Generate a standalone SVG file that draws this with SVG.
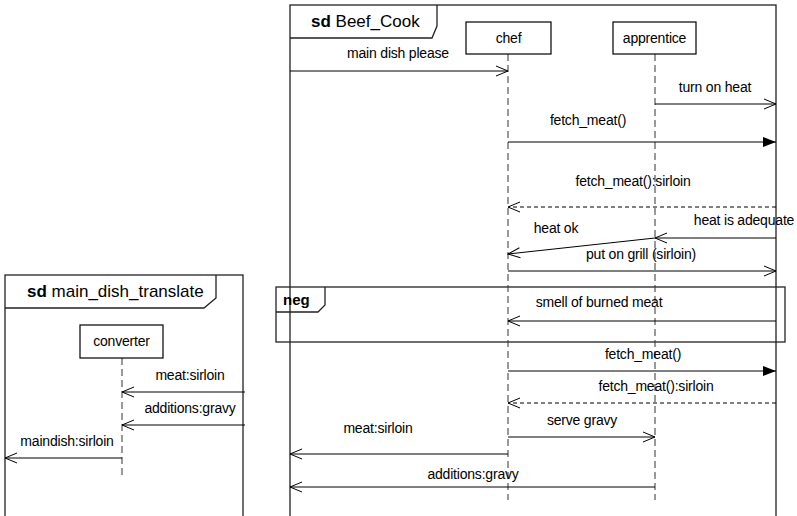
<svg xmlns="http://www.w3.org/2000/svg" width="797" height="516" viewBox="0 0 797 516">
  <defs>
    <style>
      text { font-family: "Liberation Sans", Arial, sans-serif; font-size: 14px; fill: #000; letter-spacing: -0.2px; }
      .title { font-size: 17px; letter-spacing: 0; }
      .kw { font-weight: bold; }
      .frame { fill: none; stroke: #222; stroke-width: 1.3; }
      .box { fill: #fff; stroke: #000; stroke-width: 1.2; }
      .life { stroke: #333; stroke-width: 1; stroke-dasharray: 7 4; fill: none; }
      .msg { stroke: #000; stroke-width: 1; fill: none; }
      .sync { marker-end: url(#filled); }
      .open { marker-end: url(#open); }
      .reply { stroke-dasharray: 4 3; }
    </style>
    <marker id="open" viewBox="0 0 14 12" refX="13" refY="6" markerWidth="14" markerHeight="12" markerUnits="userSpaceOnUse" orient="auto">
      <path d="M1,1 L13,6 L1,11" fill="none" stroke="#000" stroke-width="1"/>
    </marker>
    <marker id="filled" viewBox="0 0 14 12" refX="13" refY="6" markerWidth="14" markerHeight="12" markerUnits="userSpaceOnUse" orient="auto">
      <path d="M0,1 L13,6 L0,11 Z" fill="#000"/>
    </marker>
  </defs>

  <!-- sd main_dish_translate frame -->
  <g id="frame-main-dish-translate">
    <rect class="frame" x="5" y="275" width="238" height="260"/>
    <path class="frame" d="M5,308 L204,308 L216,298 L216,275"/>
    <text class="title" x="27" y="297"><tspan class="kw">sd</tspan> main_dish_translate</text>
  </g>

  <!-- sd Beef_Cook frame -->
  <g id="frame-beef-cook">
    <rect class="frame" x="290" y="5" width="486" height="530"/>
    <path class="frame" d="M290,38 L432,38 L437,26 L437,5"/>
    <text class="title" x="311" y="27"><tspan class="kw">sd</tspan> Beef_Cook</text>
  </g>

  <!-- neg combined fragment -->
  <g id="fragment-neg">
    <rect class="frame" x="276" y="287" width="509" height="55"/>
    <path class="frame" d="M276,312 L318,312 L325,305 L325,287"/>
    <text class="kw" x="283" y="305" style="font-size:15px;letter-spacing:0">neg</text>
  </g>

  <!-- lifelines -->
  <g id="chef">
    <line class="life" x1="508" y1="54" x2="508" y2="500"/>
    <rect class="box" x="466" y="22" width="85" height="32"/>
    <text x="508.5" y="43" text-anchor="middle">chef</text>
  </g>
  <g id="apprentice">
    <line class="life" x1="655" y1="54" x2="655" y2="500"/>
    <rect class="box" x="613" y="22" width="83" height="32"/>
    <text x="654.5" y="43" text-anchor="middle">apprentice</text>
  </g>
  <g id="converter">
    <line class="life" x1="122" y1="358" x2="122" y2="477"/>
    <rect class="box" x="80" y="325" width="83" height="33"/>
    <text x="121.5" y="346" text-anchor="middle">converter</text>
  </g>

  <!-- messages -->
  <g id="connectors">
    <line class="msg open" x1="290" y1="71" x2="508" y2="71"/>
    <line class="msg open" x1="655" y1="104" x2="776" y2="104"/>
    <line class="msg sync" x1="508" y1="142" x2="776" y2="142"/>
    <line class="msg reply open" x1="776" y1="207" x2="508" y2="207"/>
    <line class="msg open" x1="776" y1="238" x2="655" y2="238"/>
    <line class="msg open" x1="655" y1="238" x2="508" y2="254"/>
    <line class="msg open" x1="508" y1="271" x2="776" y2="271"/>
    <line class="msg open" x1="776" y1="321" x2="508" y2="321"/>
    <line class="msg sync" x1="508" y1="371" x2="776" y2="371"/>
    <line class="msg reply open" x1="776" y1="403" x2="508" y2="403"/>
    <line class="msg open" x1="508" y1="437" x2="655" y2="437"/>
    <line class="msg open" x1="508" y1="454" x2="290" y2="454"/>
    <line class="msg open" x1="655" y1="487" x2="290" y2="487"/>

    <line class="msg open" x1="245" y1="392" x2="122" y2="392"/>
    <line class="msg open" x1="245" y1="425" x2="122" y2="425"/>
    <line class="msg open" x1="122" y1="458" x2="5" y2="458"/>
  </g>

  <!-- message labels -->
  <g id="labels">
    <text x="398" y="58" text-anchor="middle">main dish please</text>
    <text x="715" y="92" text-anchor="middle">turn on heat</text>
    <text x="588" y="125" text-anchor="middle">fetch_meat()</text>
    <text x="633" y="186" text-anchor="middle">fetch_meat():sirloin</text>
    <text x="744" y="225" text-anchor="middle">heat is adequate</text>
    <text x="556" y="233" text-anchor="middle">heat ok</text>
    <text x="641" y="259" text-anchor="middle">put on grill (sirloin)</text>
    <text x="599" y="307" text-anchor="middle">smell of burned meat</text>
    <text x="643" y="359" text-anchor="middle">fetch_meat()</text>
    <text x="656" y="391" text-anchor="middle">fetch_meat():sirloin</text>
    <text x="582" y="425" text-anchor="middle">serve gravy</text>
    <text x="378" y="433" text-anchor="middle">meat:sirloin</text>
    <text x="473" y="479" text-anchor="middle">additions:gravy</text>

    <text x="190" y="380" text-anchor="middle">meat:sirloin</text>
    <text x="190" y="413" text-anchor="middle">additions:gravy</text>
    <text x="67" y="446" text-anchor="middle">maindish:sirloin</text>
  </g>
</svg>
